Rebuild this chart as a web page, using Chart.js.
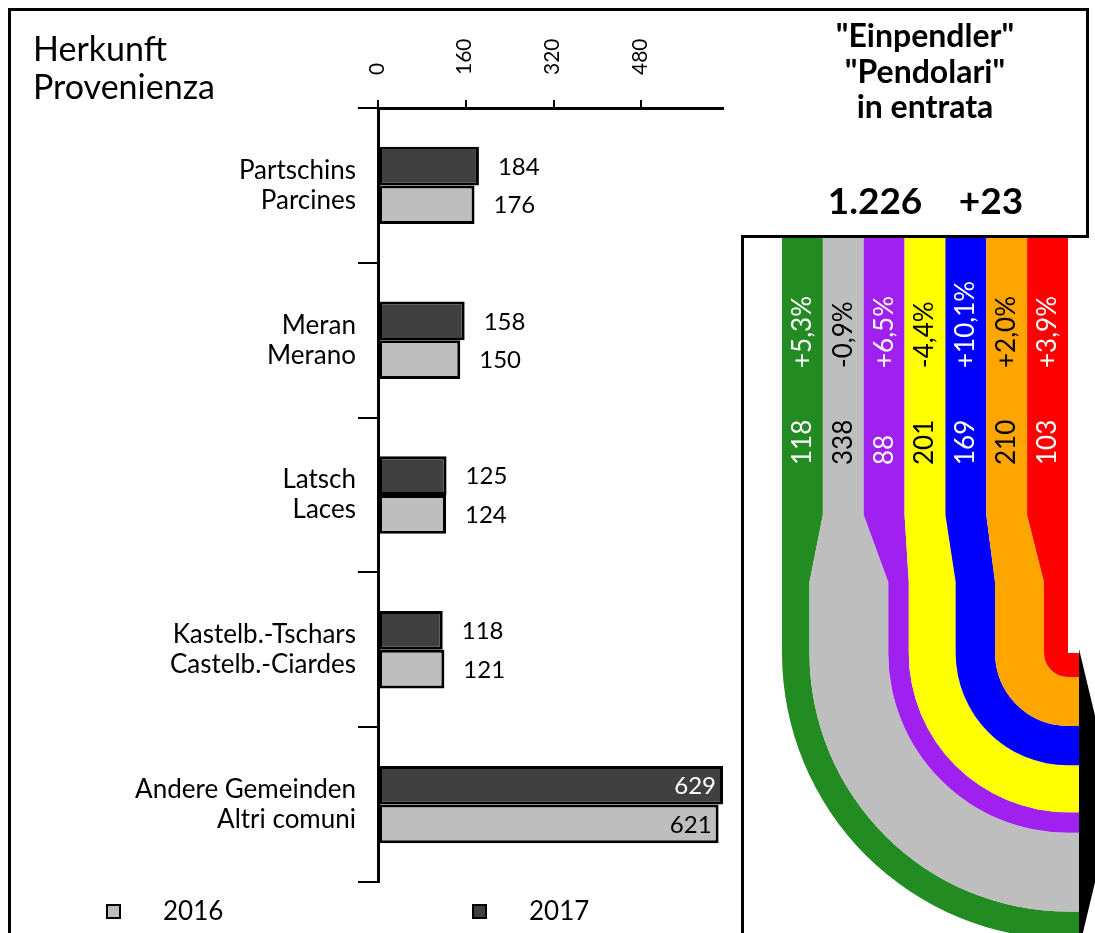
<!DOCTYPE html>
<html>
<head>
<meta charset="utf-8">
<title>Einpendler / Pendolari in entrata</title>
<script src="https://cdn.jsdelivr.net/npm/chart.js@4.4.1/dist/chart.umd.min.js"></script>
<style>
  html, body { margin: 0; padding: 0; background: #fff; }
  #page { position: relative; width: 1095px; height: 933px; overflow: hidden; background: #fff; }
  #bars { position: absolute; left: 0; top: 0; }
  #flow { position: absolute; left: 743px; top: 0; }
  .ln { position: absolute; background: #000; z-index: 5; }
</style>
</head>
<body>
<div id="page">
  <canvas id="bars" width="742" height="933"></canvas>
  <canvas id="flow" width="352" height="933"></canvas>
  <div class="ln" style="left:8px;top:8px;width:3px;height:925px"></div>
  <div class="ln" style="left:8px;top:8px;width:1081px;height:3px"></div>
  <div class="ln" style="left:1086px;top:8px;width:3px;height:230px"></div>
  <div class="ln" style="left:741px;top:235px;width:348px;height:3px"></div>
  <div class="ln" style="left:741px;top:235px;width:3px;height:698px"></div>
</div>
<script>
// Origin of commuters, 2016 and 2017
const categories = [
  ["Partschins", "Parcines"],
  ["Meran", "Merano"],
  ["Latsch", "Laces"],
  ["Kastelb.-Tschars", "Castelb.-Ciardes"],
  ["Andere Gemeinden", "Altri comuni"]
];
const values2016 = [176, 150, 124, 121, 621];
const values2017 = [184, 158, 125, 118, 629];
const axisTicks = [0, 160, 320, 480];
const axisMax = 629;
const axisTitle = ["Herkunft", "Provenienza"];

// Incoming commuters by band
const flowValues = [118, 338, 88, 201, 169, 210, 103];
const flowChanges = ["+5,3%", "-0,9%", "+6,5%", "-4,4%", "+10,1%", "+2,0%", "+3,9%"];
const flowColors = ["#228B22", "#BEBEBE", "#A020F0", "#FFFF00", "#0000FF", "#FFA500", "#FF0000"];
const flowTextColors = ["#FFFFFF", "#000000", "#FFFFFF", "#000000", "#FFFFFF", "#000000", "#FFFFFF"];
const headLines = ['"Einpendler"', '"Pendolari"', 'in entrata'];
const totalLabel = "1.226";
const changeLabel = "+23";

const FONT = "Lato, 'Open Sans', sans-serif";

// Value labels next to (or inside) each bar, plus the heading and legend
const barDecor = {
  id: 'barDecor',
  afterDatasetsDraw(chart) {
    const { ctx, chartArea } = chart;
    ctx.save();
    ctx.font = `24px ${FONT}`;
    ctx.textBaseline = 'middle';
    chart.data.datasets.forEach((ds, di) => {
      const meta = chart.getDatasetMeta(di);
      meta.data.forEach((bar, i) => {
        const txt = String(ds.data[i]);
        const w = ctx.measureText(txt).width;
        if (bar.x + 19 + w > chartArea.right) {
          ctx.textAlign = 'right';
          ctx.fillStyle = ds.labelInside;
          ctx.fillText(txt, bar.x - 7, bar.y + 1);
        } else {
          ctx.textAlign = 'left';
          ctx.fillStyle = '#000';
          ctx.fillText(txt, bar.x + 19, bar.y + 1);
        }
      });
    });
    ctx.restore();
  },
  afterDraw(chart) {
    const { ctx } = chart;
    ctx.save();
    ctx.fillStyle = '#000';
    ctx.textAlign = 'left';
    ctx.textBaseline = 'alphabetic';
    ctx.font = `34px ${FONT}`;
    ctx.fillText(axisTitle[0], 33, 61);
    ctx.fillText(axisTitle[1], 33, 99);

    // legend: 2016 first, then 2017
    const order = [1, 0];
    const xs = [107, 473];
    ctx.font = `26px ${FONT}`;
    ctx.textBaseline = 'middle';
    order.forEach((di, k) => {
      const ds = chart.data.datasets[di];
      ctx.fillStyle = ds.backgroundColor;
      ctx.fillRect(xs[k], 905, 13, 13);
      ctx.lineWidth = 2;
      ctx.strokeStyle = '#000';
      ctx.strokeRect(xs[k], 905, 13, 13);
      ctx.fillStyle = '#000';
      ctx.fillText(ds.label, xs[k] + 56, 912);
    });
    ctx.restore();
  }
};

new Chart(document.getElementById('bars'), {
  type: 'bar',
  data: {
    labels: categories,
    datasets: [
      { label: '2017', data: values2017, backgroundColor: '#404040', borderColor: '#000', borderWidth: 3,
        borderSkipped: false, categoryPercentage: 0.5, barPercentage: 1, labelInside: '#FFFFFF' },
      { label: '2016', data: values2016, backgroundColor: '#BEBEBE', borderColor: '#000', borderWidth: 3,
        borderSkipped: false, categoryPercentage: 0.5, barPercentage: 1, labelInside: '#000000' }
    ]
  },
  options: {
    indexAxis: 'y',
    responsive: false,
    animation: false,
    layout: { padding: { left: 0, top: 0, right: 19, bottom: 51 } },
    plugins: { legend: { display: false }, tooltip: { enabled: false } },
    scales: {
      x: {
        position: 'top',
        min: 0,
        max: axisMax,
        afterFit: s => { s.height = 108; },
        afterBuildTicks: s => { s.ticks = axisTicks.map(v => ({ value: v })); },
        grid: { display: true, drawOnChartArea: false, drawTicks: true, tickLength: 8, color: '#000', lineWidth: 2 },
        border: { display: true, color: '#000', width: 3 },
        ticks: { minRotation: 90, maxRotation: 90, padding: 25, labelOffset: 24, color: '#000', font: { family: FONT, size: 21 } }
      },
      y: {
        afterFit: s => { s.width = 378; },
        grid: { display: true, drawOnChartArea: false, drawTicks: true, tickLength: 20, color: '#000', lineWidth: 2, offset: true },
        border: { display: true, color: '#000', width: 3 },
        ticks: { padding: 2, color: '#000', font: { family: FONT, size: 26, lineHeight: 1.16 } }
      }
    }
  },
  plugins: [barDecor]
});

// Flow bands: equal columns at the top, then widths proportional to the counts,
// bending into concentric arcs that run into the arrow on the right.
const flowDraw = {
  id: 'flowDraw',
  beforeDatasetsDraw(chart) {
    const { ctx, chartArea: a, scales: { x } } = chart;
    const n = flowValues.length;
    const total = flowValues.reduce((s, v) => s + v, 0);
    const yTop = a.top;
    const yT1 = a.top + 278;
    const yT2 = a.top + 345;
    const yC = a.top + 416;
    const cx = x.getPixelForValue(total);
    const xEnd = cx + 11;
    const rTot = cx - x.getPixelForValue(0);

    ctx.save();
    let cum = 0;
    flowValues.forEach((v, i) => {
      const tl = x.getPixelForValue(total * i / n);
      const tr = x.getPixelForValue(total * (i + 1) / n);
      const bl = x.getPixelForValue(cum);
      const br = x.getPixelForValue(cum + v);
      const rOut = cx - bl;
      const rIn = cx - br;
      ctx.beginPath();
      ctx.moveTo(tl, yTop);
      ctx.lineTo(tl, yT1);
      ctx.lineTo(bl, yT2);
      ctx.lineTo(bl, yC);
      ctx.arc(cx, yC, rOut, Math.PI, Math.PI / 2, true);
      ctx.lineTo(xEnd, yC + rOut);
      ctx.lineTo(xEnd, yC + rIn);
      ctx.lineTo(cx, yC + rIn);
      if (rIn > 0.01) ctx.arc(cx, yC, rIn, Math.PI / 2, Math.PI, false);
      ctx.lineTo(br, yT2);
      ctx.lineTo(tr, yT1);
      ctx.lineTo(tr, yTop);
      ctx.closePath();
      ctx.fillStyle = flowColors[i];
      ctx.fill();
      cum += v;
    });

    // arrow head
    ctx.beginPath();
    ctx.moveTo(xEnd, yC - 4);
    ctx.lineTo(xEnd + 36, yC + (rTot + 6) / 2);
    ctx.lineTo(xEnd, yC + rTot + 10);
    ctx.closePath();
    ctx.fillStyle = '#000';
    ctx.fill();

    // rotated labels in each column
    ctx.font = `26px ${FONT}`;
    ctx.textAlign = 'left';
    ctx.textBaseline = 'middle';
    flowValues.forEach((v, i) => {
      const xc = x.getPixelForValue(total * (i + 0.5) / n);
      ctx.fillStyle = flowTextColors[i];
      ctx.save();
      ctx.translate(xc, a.top + 131);
      ctx.rotate(-Math.PI / 2);
      ctx.fillText(flowChanges[i], 0, 0);
      ctx.restore();
      ctx.save();
      ctx.translate(xc, a.top + 228);
      ctx.rotate(-Math.PI / 2);
      ctx.fillText(String(v), 0, 0);
      ctx.restore();
    });

    // heading
    const mid = (x.getPixelForValue(0) + x.getPixelForValue(total)) / 2;
    ctx.fillStyle = '#000';
    ctx.textAlign = 'center';
    ctx.textBaseline = 'alphabetic';
    ctx.font = `bold 32px ${FONT}`;
    headLines.forEach((t, k) => ctx.fillText(t, mid, 47 + k * 35.5));
    ctx.font = `bold 37px ${FONT}`;
    ctx.fillText(totalLabel, mid - 50, 214);
    ctx.fillText(changeLabel, mid + 66, 214);
    ctx.restore();
  }
};

new Chart(document.getElementById('flow'), {
  type: 'scatter',
  data: { datasets: [{ data: [], pointRadius: 0 }] },
  options: {
    responsive: false,
    animation: false,
    layout: { padding: { left: 39, right: 27, top: 237, bottom: 0 } },
    plugins: { legend: { display: false }, tooltip: { enabled: false } },
    scales: {
      x: { type: 'linear', display: false, min: 0, max: flowValues.reduce((s, v) => s + v, 0) },
      y: { type: 'linear', display: false, min: 0, max: 1 }
    }
  },
  plugins: [flowDraw]
});
</script>
</body>
</html>
